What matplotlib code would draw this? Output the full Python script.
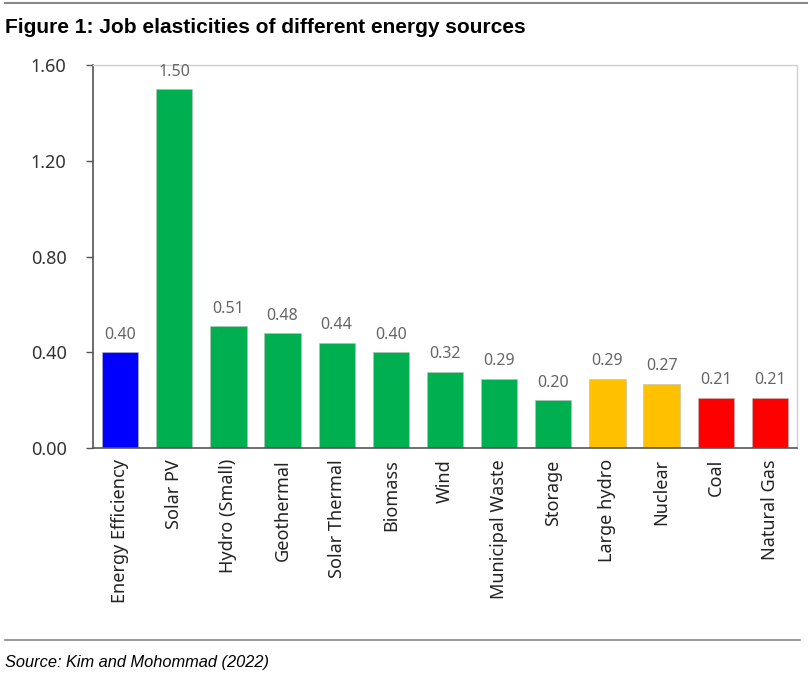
import matplotlib
matplotlib.use("Agg")
import matplotlib.pyplot as plt
import numpy as np
from matplotlib.lines import Line2D

categories = ['Energy Efficiency', 'Solar PV', 'Hydro (Small)', 'Geothermal',
              'Solar Thermal', 'Biomass', 'Wind', 'Municipal Waste', 'Storage',
              'Large hydro', 'Nuclear', 'Coal', 'Natural Gas']
values = [0.40, 1.50, 0.51, 0.48, 0.44, 0.40, 0.32, 0.29, 0.20, 0.29, 0.27, 0.21, 0.21]
groups = ['efficiency'] + ['renewable'] * 8 + ['low carbon'] * 2 + ['fossil'] * 2

COLORS = {'efficiency': '#0000FF', 'renewable': '#00B050',
          'low carbon': '#FFC000', 'fossil': '#FF0000'}

plt.rcParams['font.family'] = ['Noto Sans', 'DejaVu Sans']

fig = plt.figure(figsize=(8.12, 6.8), dpi=100)
ax = fig.add_axes([0.1145, 0.341, 0.867, 0.563])

x = np.arange(len(categories))
ax.bar(x, values, width=0.67, color=[COLORS[g] for g in groups],
       edgecolor='#BBBBBB', linewidth=0.4)

for xi, v in zip(x, values):
    ax.text(xi, v + 0.04, '%.2f' % v, ha='center', va='bottom',
            fontsize=11.5, color='#666666')

ax.set_xlim(-0.5, len(categories) - 0.5)
ax.set_ylim(0, 1.6)
ax.set_yticks([0, 0.4, 0.8, 1.2, 1.6])
ax.set_yticklabels(['%.2f' % t for t in [0, 0.4, 0.8, 1.2, 1.6]],
                   fontsize=13, color='#333333')
ax.set_xticks(x)
ax.set_xticklabels(categories, rotation=90, fontsize=13, color='#222222')
ax.tick_params(axis='x', length=0, pad=8)
ax.tick_params(axis='y', length=5, width=1, color='#555555', pad=14)

for s in ['left', 'bottom']:
    ax.spines[s].set_color('#555555')
    ax.spines[s].set_linewidth(1.2)
for s in ['top', 'right']:
    ax.spines[s].set_color('#D0D0D0')
    ax.spines[s].set_linewidth(1)

# page furniture: rules, title, source
fig.add_artist(Line2D([0.006, 0.994], [0.995, 0.995], color='#888888', lw=1.5))
fig.add_artist(Line2D([0.006, 0.985], [0.059, 0.059], color='#888888', lw=1.2))
fig.text(0.006, 0.96, 'Figure 1: Job elasticities of different energy sources',
         fontsize=15, fontweight='bold', family='Liberation Sans',
         ha='left', va='center')
fig.text(0.006, 0.025, 'Source: Kim and Mohommad (2022)', fontsize=11.8,
         style='italic', family='Liberation Sans', ha='left', va='center')

fig.savefig('out.png', dpi=100)
